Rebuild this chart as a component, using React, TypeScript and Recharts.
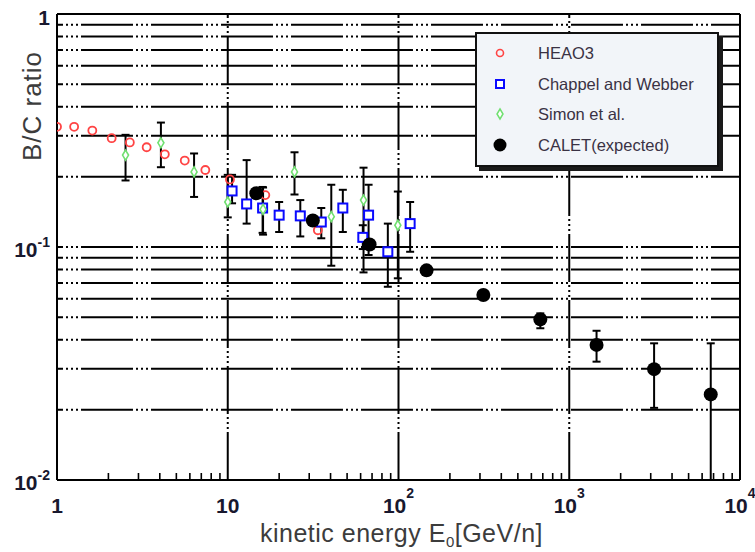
import React from 'react';
import { ScatterChart, Scatter, XAxis, YAxis, ErrorBar, ReferenceLine, Legend } from 'recharts';

// ---------- data ----------
const seriesNames = ['HEAO3', 'Chappel and Webber', 'Simon et al.', 'CALET(expected)'];

const heaoE = [1.0, 1.26, 1.61, 2.09, 2.67, 3.35, 4.28, 5.6, 7.39, 10.3, 16.6, 33.7];
const heaoR = [0.328, 0.328, 0.316, 0.293, 0.281, 0.268, 0.25, 0.235, 0.214, 0.195, 0.167, 0.118];

const cwE = [10.6, 12.9, 16.0, 20.0, 26.6, 35.3, 47.2, 61.8, 66.8, 86.6, 117];
const cwR = [0.174, 0.153, 0.147, 0.137, 0.136, 0.128, 0.147, 0.11, 0.137, 0.0954, 0.126];
const cwLo = [0.154, 0.126, 0.115, 0.116, 0.111, 0.109, 0.116, 0.098, 0.0924, 0.0675, 0.0954];
const cwHi = [0.204, 0.236, 0.181, 0.156, 0.159, 0.147, 0.176, 0.124, 0.185, 0.126, 0.156];

const siE = [2.52, 4.06, 6.35, 10.0, 16.1, 24.6, 40.4, 62.4, 99.1];
const siR = [0.248, 0.28, 0.21, 0.156, 0.145, 0.21, 0.135, 0.159, 0.124];
const siLo = [0.193, 0.22, 0.164, 0.134, 0.113, 0.168, 0.0831, 0.0778, 0.0734];
const siHi = [0.303, 0.342, 0.252, 0.204, 0.18, 0.255, 0.185, 0.219, 0.173];

const caE = [14.7, 31.5, 67.7, 146, 314, 677, 1445, 3140, 6740];
const caR = [0.17, 0.13, 0.1025, 0.0794, 0.0622, 0.0489, 0.038, 0.0299, 0.0233];
const caLo = [0.166, 0.127, 0.0995, 0.0775, 0.0607, 0.0448, 0.0322, 0.0204, 0.01];
const caHi = [0.174, 0.133, 0.1055, 0.0813, 0.0637, 0.0519, 0.0437, 0.0386, 0.0386];

const xMajorTicks = [1, 10, 100, 1000, 10000];
const xMinorMultipliers = [2, 3, 4, 5, 6, 7, 8, 9];
const yTicks = [0.01, 0.1, 1];
const yGridValues = [0.02, 0.03, 0.04, 0.05, 0.06, 0.07, 0.08, 0.09, 0.1, 0.2, 0.3, 0.4, 0.5, 0.6, 0.7, 0.8, 0.9];
const xGridValues = [10, 100, 1000];

// ---------- derived tables ----------
const toRows = (E: number[], R: number[], lo?: number[], hi?: number[]) =>
  E.map((e, i) => ({ e, r: R[i], err: lo && hi ? [R[i] - lo[i], hi[i] - R[i]] : [0, 0] }));

const heaoRows = toRows(heaoE, heaoR);
const cwRows = toRows(cwE, cwR, cwLo, cwHi);
const siRows = toRows(siE, siR, siLo, siHi);
const caRows = toRows(caE, caR, caLo, caHi);

const xTicks = [
  ...xMajorTicks,
  ...xMajorTicks.slice(0, 4).flatMap((m) => xMinorMultipliers.map((k) => k * m)),
].sort((a, b) => a - b);

// ---------- styling ----------
const FONT = '"Liberation Sans", Arial, Helvetica, sans-serif';
const RED = '#ff4444';
const BLUE = '#0a0aff';
const GREEN = '#70e070';
const TICK_COLOR = '#18182e';
const GRID_H_DASH = '52 3 2 3 2 3 2 3';
const GRID_V_DASH = '48 3 2 3 2 3 2 3';

// ---------- shapes ----------
const RedCircle = (p: any) => (
  <circle cx={p.cx} cy={p.cy} r={4} fill="none" stroke={RED} strokeWidth={1.8} />
);
const BlueSquare = (p: any) => (
  <rect x={p.cx - 4.5} y={p.cy - 4.5} width={9} height={9} fill="#fff" stroke={BLUE} strokeWidth={2} />
);
const GreenDiamond = (p: any) => (
  <path
    d={`M${p.cx},${p.cy - 5}L${p.cx + 3},${p.cy}L${p.cx},${p.cy + 5}L${p.cx - 3},${p.cy}Z`}
    fill="#fff"
    stroke={GREEN}
    strokeWidth={1.6}
  />
);
const BlackDot = (p: any) => <circle cx={p.cx} cy={p.cy} r={7} fill="#000" />;

// ---------- ticks ----------
function XTick(props: any) {
  const { x, y, payload } = props;
  const v = payload.value as number;
  const exp = Math.round(Math.log10(v));
  const major = Math.abs(v - Math.pow(10, exp)) < 1e-9;
  if (!major) {
    return <line x1={x} x2={x} y1={y} y2={y - 7} stroke="#000" strokeWidth={1.6} />;
  }
  return (
    <text x={x} y={y + 33} textAnchor="middle" fontFamily={FONT} fontWeight="bold" fontSize={21} fill={TICK_COLOR}>
      {exp === 0 ? '1' : exp === 1 ? '10' : (
        <>
          10
          <tspan dy={-15} fontSize={14}>{exp}</tspan>
        </>
      )}
    </text>
  );
}

function YTick(props: any) {
  const { x, y, payload } = props;
  const v = payload.value as number;
  const exp = Math.round(Math.log10(v));
  return (
    <text x={x - 7} y={y + (exp === 0 ? 11 : 10)} textAnchor="end" fontFamily={FONT} fontWeight="bold" fontSize={21} fill={TICK_COLOR}>
      {exp === 0 ? '1' : (
        <>
          10
          <tspan dy={-10} fontSize={14}>{exp}</tspan>
        </>
      )}
    </text>
  );
}

// ---------- axis titles ----------
function XTitle(props: any) {
  const vb = props.viewBox || { x: 57, y: 480, width: 683, height: 72 };
  return (
    <text x={vb.x + vb.width / 2 + 3} y={vb.y + 62} textAnchor="middle" fontFamily={FONT} fontSize={25} letterSpacing={0.5} fill="#3c3c3c">
      kinetic energy E
      <tspan dy={5} fontSize={15}>0</tspan>
      <tspan dy={-5}>[GeV/n]</tspan>
    </text>
  );
}

function YTitle() {
  const cx = 41;
  const cy = 106;
  return (
    <text x={cx} y={cy} transform={`rotate(-90, ${cx}, ${cy})`} textAnchor="middle" fontFamily={FONT} fontSize={26} letterSpacing={1} fill="#3c3c3c">
      B/C ratio
    </text>
  );
}

// ---------- legend ----------
const legendMarkers = [
  <circle cx={10} cy={10} r={3.5} fill="none" stroke={RED} strokeWidth={1.6} />,
  <rect x={6} y={6} width={8} height={8} fill="#fff" stroke={BLUE} strokeWidth={2} />,
  <path d="M10,5L13,10L10,15L7,10Z" fill="#fff" stroke={GREEN} strokeWidth={1.5} />,
  <circle cx={10} cy={10} r={6.5} fill="#000" />,
];
const legendRowCenters = [21, 51.5, 82, 112.5];

function LegendBox() {
  return (
    <div
      style={{
        position: 'relative',
        width: 240,
        height: 131,
        background: '#f2f5f9',
        border: '2px solid #111',
        boxShadow: '4px 4px 0 #1a1a1a',
        fontFamily: FONT,
        fontSize: 16.5,
        color: '#3a3244',
      }}
    >
      {seriesNames.map((name, i) => (
        <div key={name}>
          <svg
            width={20}
            height={20}
            style={{ position: 'absolute', left: 13, top: legendRowCenters[i] - 10 - 2 }}
          >
            {legendMarkers[i]}
          </svg>
          <div
            style={{
              position: 'absolute',
              left: 61,
              top: legendRowCenters[i] - 12,
              height: 20,
              lineHeight: '20px',
              whiteSpace: 'nowrap',
            }}
          >
            {name}
          </div>
        </div>
      ))}
    </div>
  );
}

export default function App() {
  return (
    <div style={{ position: 'absolute', left: 0, top: 0, width: 755, height: 552, background: '#fff' }}>
      <ScatterChart width={755} height={552} margin={{ top: 14, right: 15, bottom: 0, left: 0 }}>
        <XAxis
          dataKey="e"
          type="number"
          scale="log"
          domain={[1, 10000]}
          allowDataOverflow
          ticks={xTicks}
          interval={0}
          tick={<XTick />}
          tickLine={false}
          axisLine={false}
          tickSize={0}
          tickMargin={0}
          height={72}
          label={<XTitle />}
        />
        <YAxis
          dataKey="r"
          type="number"
          scale="log"
          domain={[0.01, 1]}
          allowDataOverflow
          ticks={yTicks}
          interval={0}
          tick={<YTick />}
          tickLine={false}
          axisLine={false}
          tickSize={0}
          tickMargin={0}
          width={57}
          label={<YTitle />}
        />

        {yGridValues.map((v) => (
          <ReferenceLine key={`h${v}`} y={v} stroke="#000" strokeWidth={2} strokeDasharray={GRID_H_DASH} strokeDashoffset={46} />
        ))}
        {xGridValues.map((v) => (
          <ReferenceLine key={`v${v}`} x={v} stroke="#000" strokeWidth={2} strokeDasharray={GRID_V_DASH} />
        ))}
        <ReferenceLine y={1} stroke="#000" strokeWidth={2} />
        <ReferenceLine y={0.01} stroke="#000" strokeWidth={2} />
        <ReferenceLine x={1} stroke="#000" strokeWidth={2} />
        <ReferenceLine x={10000} stroke="#000" strokeWidth={2} />

        <Scatter name={seriesNames[0]} data={heaoRows} shape={<RedCircle />} isAnimationActive={false} />
        <Scatter name={seriesNames[1]} data={cwRows} shape={<BlueSquare />} isAnimationActive={false}>
          <ErrorBar dataKey="err" direction="y" width={4} stroke="#000" strokeWidth={2} isAnimationActive={false} />
        </Scatter>
        <Scatter name={seriesNames[2]} data={siRows} shape={<GreenDiamond />} isAnimationActive={false}>
          <ErrorBar dataKey="err" direction="y" width={4} stroke="#000" strokeWidth={2} isAnimationActive={false} />
        </Scatter>
        <Scatter name={seriesNames[3]} data={caRows} shape={<BlackDot />} isAnimationActive={false}>
          <ErrorBar dataKey="err" direction="y" width={4} stroke="#000" strokeWidth={2} isAnimationActive={false} />
        </Scatter>

        <Legend
          layout="horizontal"
          verticalAlign="middle"
          align="center"
          content={<LegendBox />}
          wrapperStyle={{ top: 32, left: 475, width: 244, height: 135 }}
        />
      </ScatterChart>
    </div>
  );
}
